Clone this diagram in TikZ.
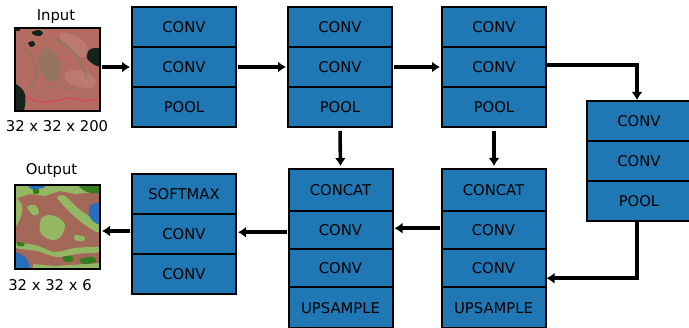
\documentclass[tikz,border=0pt]{standalone}
\usepackage{fontspec}
\setmainfont{DejaVu Sans}
\usetikzlibrary{arrows.meta,calc}
\definecolor{cellblue}{RGB}{31,119,180}
\definecolor{inbase}{RGB}{180,108,98}
\definecolor{inlight}{RGB}{196,134,120}
\definecolor{ingreen}{RGB}{125,125,95}
\definecolor{indark}{RGB}{20,36,28}
\definecolor{inred}{RGB}{215,70,90}
\definecolor{mapbrown}{RGB}{163,104,88}
\definecolor{mapgreen}{RGB}{148,183,99}
\definecolor{mapdark}{RGB}{52,125,30}
\definecolor{mapblue}{RGB}{40,110,190}
\begin{document}
\begin{tikzpicture}[x=1pt,y=-1pt,
  cell/.style={draw=black,line width=2pt,fill=cellblue,minimum width=104pt,
    inner sep=0pt,outer sep=0pt,font=\fontsize{14.8}{18}\selectfont,text=black},
  h40/.style={minimum height=40pt},
  arr/.style={line width=3.6pt,-{Latex[length=8pt,width=11pt]},shorten >=2pt,shorten <=2pt},
  varr/.style={arr,shorten >=3pt,shorten <=4pt},
  lbl/.style={font=\fontsize{14.8}{18}\selectfont,inner sep=0pt,anchor=base},
  imgframe/.style={draw=black,line width=1.2pt,minimum width=85pt,minimum height=83pt,inner sep=0pt,outer sep=0pt}]
\useasboundingbox (0,0) rectangle (689,328);

% ---------- input image ----------
\begin{scope}[shift={(15,28)}]
  \clip (0,0) rectangle (85,83);
  \fill[inbase] (0,0) rectangle (85,83);
  \fill[inlight,opacity=.6] plot[smooth cycle] coordinates {(45,5)(60,8)(72,18)(68,30)(58,22)(48,14)};
  \fill[inlight,opacity=.5] plot[smooth cycle] coordinates {(50,45)(65,42)(80,50)(78,60)(62,58)(52,54)};
  \fill[ingreen,opacity=.55] plot[smooth cycle] coordinates {(24,26)(32,20)(40,26)(46,36)(44,48)(36,54)(28,48)(24,38)};
  \draw[ingreen,line width=2pt,opacity=.6] plot[smooth] coordinates {(8,18)(18,32)(22,48)(14,60)};
  \draw[ingreen,line width=2pt,opacity=.6] plot[smooth] coordinates {(40,10)(55,20)(66,36)(72,50)};
  \draw[ingreen,line width=1.5pt,opacity=.5] plot[smooth] coordinates {(44,50)(52,62)(60,60)(75,66)};
  \draw[ingreen,line width=1.5pt,opacity=.5] plot[smooth] coordinates {(20,70)(30,60)(42,58)};
  \draw[inred,line width=1.4pt,opacity=.85] plot[smooth] coordinates {(0,62)(10,68)(25,74)(40,73)(55,70)(70,73)(85,71)};
  \fill[indark] plot[smooth cycle] coordinates {(17,4)(24,2)(28,5)(25,8)(19,7)};
  \fill[indark] plot[smooth cycle] coordinates {(13,15)(18,13)(20,17)(16,19)};
  \fill[indark] plot[smooth cycle] coordinates {(74,22)(80,20)(86,22)(86,38)(78,36)(72,30)};
  \fill[indark] plot[smooth cycle] coordinates {(-2,57)(5,59)(10,66)(10,78)(7,86)(-2,86)};
  \fill[indark] (0,0) rectangle (5,3);
\end{scope}
\node[imgframe] (inimg) at (57.5,69.5) {};
\node[lbl] (inlbl) at (56,20.5) {Input};
\node[lbl] (insz) at (57,131.5) {32 x 32 x 200};

% ---------- output image ----------
\begin{scope}[shift={(15,185)}]
  \clip (0,0) rectangle (85,84);
  \fill[mapbrown] (0,0) rectangle (85,84);
  \fill[mapgreen] (0,0) -- (85,0) -- (85,7) -- (60,9) -- (45,6) -- (30,11) -- (15,9) -- (0,14) -- cycle;
  \fill[mapgreen] plot[smooth cycle] coordinates {(0,14)(6,18)(7,28)(3,38)(0,40)};
  \fill[mapgreen] plot[smooth cycle] coordinates {(26,34)(34,30)(44,33)(50,40)(47,50)(40,55)(31,53)(25,46)};
  \fill[mapgreen] plot[smooth cycle] coordinates {(42,12)(50,11)(64,24)(86,40)(86,48)(76,44)(60,32)(48,20)};
  \fill[mapgreen] plot[smooth cycle] coordinates {(0,58)(20,60)(40,67)(60,63)(86,62)(86,67)(62,69)(42,72)(22,66)(0,63)};
  \fill[mapgreen] (18,79) -- (40,81) -- (86,78) -- (86,86) -- (18,86) -- cycle;
  \fill[mapgreen] plot[smooth cycle] coordinates {(12,22)(20,20)(24,28)(18,30)};
  \fill[mapgreen] plot[smooth cycle] coordinates {(60,50)(70,52)(68,56)(60,55)};
  \fill[mapdark] plot[smooth cycle] coordinates {(64,0)(86,-1)(86,8)(72,7)};
  \fill[mapdark] plot[smooth cycle] coordinates {(18,4)(23,3)(24,8)(19,9)};
  \fill[mapdark] plot[smooth cycle] coordinates {(48,72)(57,71)(58,76)(50,77)};
  \fill[mapdark] plot[smooth cycle] coordinates {(65,74)(78,72)(81,77)(68,79)};
  \fill[mapdark] plot[smooth cycle] coordinates {(2,57)(9,58)(9,61)(3,61)};
  \fill[mapblue] plot[smooth cycle] coordinates {(14,-1)(30,-1)(28,3)(16,4)};
  \fill[mapblue] plot[smooth cycle] coordinates {(75,21)(82,18)(87,21)(87,39)(79,37)(74,30)};
  \fill[mapblue] plot[smooth cycle] coordinates {(-1,68)(7,70)(13,76)(13,86)(-1,86)};
\end{scope}
\node[imgframe,minimum height=84pt] (outimg) at (57.5,227) {};
\node[lbl] (outlbl) at (51.5,175) {Output};
\node[lbl] (outsz) at (50,290.5) {32 x 32 x 6};

% ---------- encoder blocks ----------
\node[cell,h40] (b1a) at (184,27) {CONV};
\node[cell,h40] (b1b) at (184,67) {CONV};
\node[cell,h40] (b1c) at (184,107) {POOL};

\node[cell,h40] (b2a) at (340,27) {CONV};
\node[cell,h40] (b2b) at (340,67) {CONV};
\node[cell,h40] (b2c) at (340,107) {POOL};

\node[cell,h40] (b3a) at (494,27) {CONV};
\node[cell,h40] (b3b) at (494,67) {CONV};
\node[cell,h40] (b3c) at (494,107) {POOL};

\node[cell,h40] (b4a) at (639,121) {CONV};
\node[cell,h40] (b4b) at (639,161) {CONV};
\node[cell,h40] (b4c) at (639,201) {POOL};

% ---------- decoder blocks ----------
\node[cell,minimum height=42.5pt] (b5a) at (493.5,190.25) {CONCAT};
\node[cell,minimum height=37.5pt] (b5b) at (493.5,230.25) {CONV};
\node[cell,minimum height=38.5pt] (b5c) at (493.5,268.25) {CONV};
\node[cell,minimum height=41pt]   (b5d) at (493.5,308) {UPSAMPLE};

\node[cell,minimum height=42.5pt] (b6a) at (340.5,190.25) {CONCAT};
\node[cell,minimum height=37.5pt] (b6b) at (340.5,230.25) {CONV};
\node[cell,minimum height=38.5pt] (b6c) at (340.5,268.25) {CONV};
\node[cell,minimum height=41pt]   (b6d) at (340.5,308) {UPSAMPLE};

\node[cell,h40] (b7a) at (184,194) {SOFTMAX};
\node[cell,h40] (b7b) at (184,234) {CONV};
\node[cell,h40] (b7c) at (184,274) {CONV};

% ---------- connectors ----------
\draw[arr] (inimg.east |- b1b) -- (b1b.west);
\draw[arr] (b1b.east) -- (b2b.west);
\draw[arr] (b2b.east) -- (b3b.west);
\draw[arr,shorten >=1pt,shorten <=0pt] ([yshift=2pt]b3b.east) -| ([xshift=-2pt]b4a.north);
\draw[varr] (b2c.south) -- (b6a.north);
\draw[varr] (b3c.south) -- (b3c.south |- b5a.north);
\draw[arr,shorten <=1pt,shorten >=1pt] ([xshift=-2pt]b4c.south) |- ([yshift=-10pt]b5c.east);
\draw[arr] ([yshift=2pt]b5b.west) -- ([yshift=2pt]b6b.east);
\draw[arr] ([yshift=-2pt]b6b.west) -- ([yshift=-2pt]b6b.west -| b7b.east);
\draw[arr] ([yshift=3pt]b7b.west) -- ([yshift=3pt]b7b.west -| outimg.east);
\end{tikzpicture}
\end{document}
